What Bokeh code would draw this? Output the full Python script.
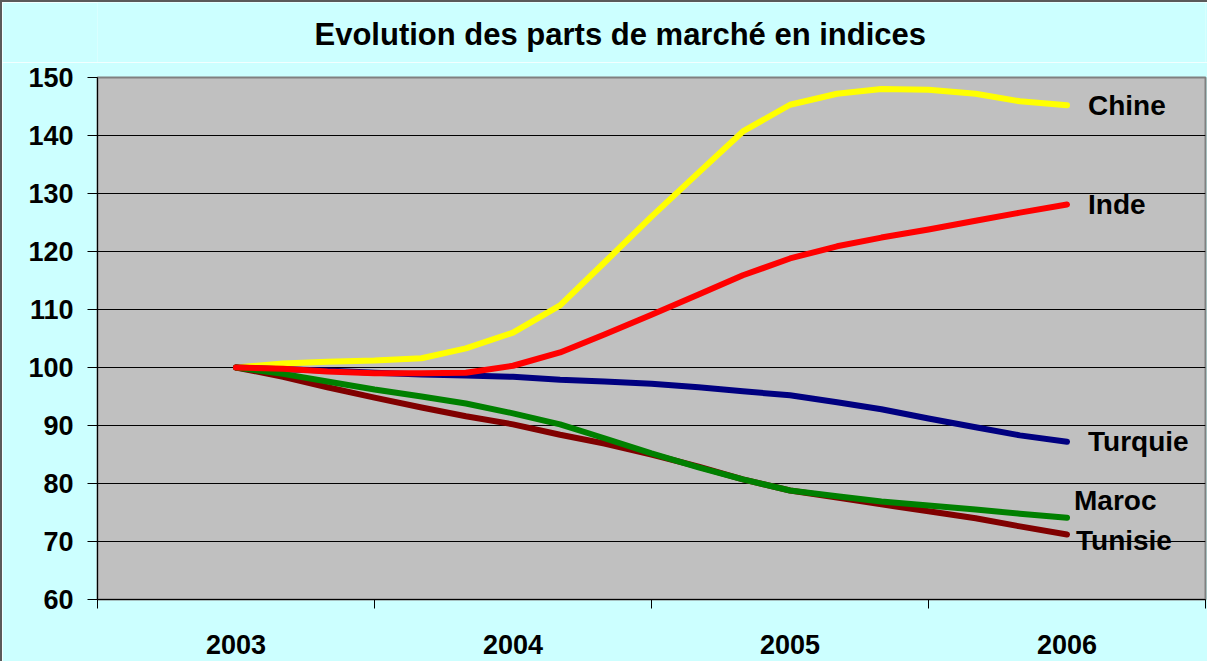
from bokeh.plotting import figure
from bokeh.models import Range1d, FixedTicker, ColumnDataSource
from bokeh.layouts import column
from bokeh.core.properties import value
from bokeh.embed import file_html
from bokeh.resources import INLINE

# ---- data ----
years = [2003, 2004, 2005, 2006]
periods = [2003.0, 2003.17, 2003.33, 2003.5, 2003.67, 2003.83,
           2004.0, 2004.17, 2004.33, 2004.5, 2004.67, 2004.83,
           2005.0, 2005.17, 2005.33, 2005.5, 2005.67, 2005.83, 2006.0]
chine = [100, 100.7, 101.0, 101.2, 101.6, 103.3, 106.0, 110.7, 118.1, 126.0,
         133.6, 140.7, 145.3, 147.2, 148.0, 147.9, 147.2, 145.9, 145.2]
inde = [100, 99.8, 99.3, 99.0, 99.0, 99.1, 100.3, 102.6, 105.7, 109.1,
        112.6, 115.9, 118.8, 120.9, 122.4, 123.8, 125.3, 126.7, 128.1]
turquie = [100, 99.7, 99.5, 99.1, 98.8, 98.6, 98.4, 97.9, 97.6, 97.2,
           96.6, 95.9, 95.2, 94.0, 92.8, 91.2, 89.7, 88.3, 87.2]
maroc = [100, 98.9, 97.6, 96.2, 95.0, 93.8, 92.1, 90.2, 87.8, 85.2,
         82.8, 80.7, 78.8, 77.8, 76.9, 76.2, 75.5, 74.8, 74.1]
tunisie = [100, 98.4, 96.6, 94.8, 93.1, 91.6, 90.2, 88.4, 86.9, 85.0,
           82.9, 80.7, 78.8, 77.6, 76.4, 75.2, 74.0, 72.6, 71.2]
y_ticks = [60, 70, 80, 90, 100, 110, 120, 130, 140, 150]
title_text = "Evolution des parts de marché en indices"

series = [  # drawing order bottom -> top
    ("Chine", chine, "#FFFF00"),
    ("Turquie", turquie, "#000080"),
    ("Tunisie", tunisie, "#800000"),
    ("Maroc", maroc, "#008000"),
    ("Inde", inde, "#FF0000"),
]
# label pixel offsets (style)
label_offsets = {"Chine": (21, 0), "Inde": (21, 0), "Turquie": (21, 0),
                 "Maroc": (7, -17), "Tunisie": (9, 6)}

FONT = "Liberation Sans"
BG = "#CCFFFF"
W = 1205
TITLE_H = 60
MAIN_H = 599

# ---- title strip (text only, no axes) ----
t = figure(width=W, height=TITLE_H, output_backend="svg", toolbar_location=None,
           x_range=Range1d(0, W), y_range=Range1d(0, TITLE_H),
           x_axis_location=None, y_axis_location=None,
           min_border_left=0, min_border_right=0, min_border_top=0,
           min_border_bottom=0)
t.grid.visible = False
t.outline_line_color = None
t.background_fill_color = BG
t.border_fill_color = BG
t.text(x=[236], y=[TITLE_H - 32], text=[title_text],
       text_font=value(FONT), text_font_size="31px", text_font_style="bold",
       text_color="black", text_align="left", text_baseline="middle")

# ---- main chart ----
p = figure(width=W, height=MAIN_H, output_backend="svg", toolbar_location=None,
           x_range=Range1d(2002.5, 2006.5), y_range=Range1d(60, 150),
           min_border_left=95, min_border_top=15, min_border_bottom=62,
           min_border_right=2)
p.background_fill_color = "#C0C0C0"
p.border_fill_color = BG
p.outline_line_color = "#808080"
p.outline_line_width = 2

# x axis
xa = p.xaxis[0]
xa.ticker = FixedTicker(ticks=years,
                        minor_ticks=[2002.5, 2003.5, 2004.5, 2005.5, 2006.5])
xa.major_label_overrides = {y: str(y) for y in years}
xa.major_tick_line_color = None
xa.major_tick_out = 0
xa.major_tick_in = 0
xa.minor_tick_line_color = "black"
xa.minor_tick_out = 9
xa.minor_tick_in = 0
xa.major_label_standoff = 26
xa.major_label_text_font = FONT
xa.major_label_text_font_size = "27px"
xa.major_label_text_font_style = "bold"
xa.major_label_text_color = "black"
xa.axis_line_color = "black"

# y axis
ya = p.yaxis[0]
ya.ticker = FixedTicker(ticks=y_ticks)
ya.major_tick_out = 10
ya.major_tick_in = 0
ya.major_tick_line_color = "black"
ya.minor_tick_line_color = None
ya.major_label_standoff = 14
ya.major_label_text_font = FONT
ya.major_label_text_font_size = "27px"
ya.major_label_text_font_style = "bold"
ya.major_label_text_color = "black"
ya.axis_line_color = "black"

p.xgrid.grid_line_color = None
p.ygrid.ticker = FixedTicker(ticks=y_ticks)
p.ygrid.grid_line_color = "black"
p.ygrid.grid_line_width = 1

for name, vals, color in series:
    p.line(periods, vals, line_color=color, line_width=6,
           line_join="round", line_cap="round")

names = [s[0] for s in series]
src = ColumnDataSource(dict(
    x=[periods[-1]] * len(series),
    y=[s[1][-1] for s in series],
    text=names,
    xo=[label_offsets[n][0] for n in names],
    yo=[label_offsets[n][1] for n in names],
))
p.text(x="x", y="y", text="text", x_offset="xo", y_offset="yo", source=src,
       text_font=value(FONT), text_font_size="28px", text_font_style="bold",
       text_color="black", text_align="left", text_baseline="middle")

layout = column(t, p, spacing=0)
layout.styles = {"border-left": "2px solid #5a5a5a", "border-top": "2px solid #5a5a5a"}

open("out.html", "w").write(file_html(layout, INLINE))
